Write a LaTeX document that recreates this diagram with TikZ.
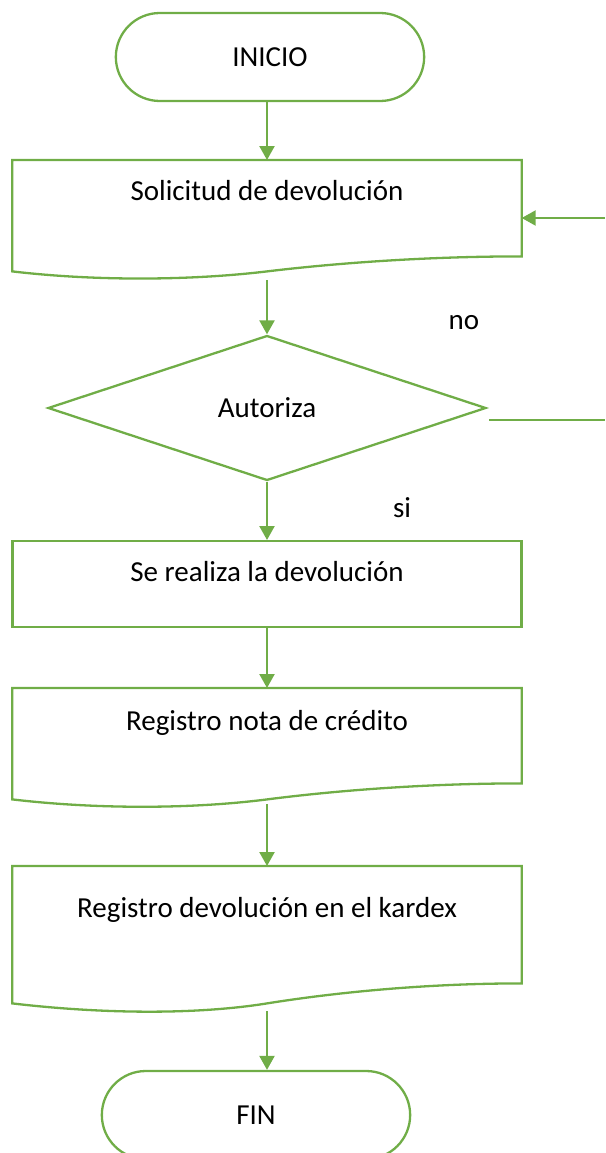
\documentclass[tikz,border=0pt]{standalone}
\usepackage{fontspec}
\setmainfont{Carlito}
\usetikzlibrary{calc,arrows.meta,shapes.geometric,shapes.misc}
\definecolor{flowgreen}{HTML}{70AD47}
\tikzset{
	flowline/.style={line width=2.3pt, color=flowgreen, line join=miter},
	flowarrow/.style={line width=2.3pt, color=flowgreen, -{Triangle[length=14pt,width=15pt]}},
	flowtext/.style={font=\fontsize{29}{34}\selectfont, text=black},
	terminal/.style={flowtext, rounded rectangle, draw=flowgreen, line width=2.3pt, minimum width=315pt, minimum height=88pt},
	docbox/.style={flowtext, anchor=north, inner sep=0pt, minimum width=509pt},
	procbox/.style={docbox, draw=flowgreen, line width=2.3pt},
	decision/.style={flowtext, diamond, draw=flowgreen, line width=2.3pt, minimum width=438pt, minimum height=145pt, inner sep=0pt}
}
\def\docoutline(#1:#2){\draw[flowline] ($(#1.south east)+(0,-#2)$) -- (#1.north east) -- (#1.north west) -- (#1.south west) .. controls +(85,10) and +(-75,{0.6*#2}) .. (#1.south) .. controls +(75,{-0.6*#2}) and +(-90,0) .. ($(#1.south east)+(0,-#2)$) -- cycle;}

\begin{document}
\begin{tikzpicture}[x=1pt, y=-1pt]
		%%%%% START %%%%%
		\useasboundingbox (0, 0) rectangle (605, 1153);
		
		\node[terminal] (inicio) at (270, 57) {INICIO};
		\node[docbox, text height=40pt, text depth=71pt] (sol) at (267, 160) {Solicitud de devolución};
		\docoutline(sol:15)
		
		\node[decision] (autoriza) at (267, 408) {Autoriza};
		\node[flowtext] (lblno) at (464, 323) {no};
		\node[flowtext] (lblsi) at (402, 508) {si};
		
		\node[procbox, text height=40pt, text depth=46pt] (realiza) at (267, 540) {Se realiza la devolución};
		
		\node[docbox, text height=42pt, text depth=69pt] (nota) at (267, 688) {Registro nota de crédito};
		\docoutline(nota:16)
		
		\node[docbox, text height=51pt, text depth=86pt] (kardex) at (267, 866) {Registro devolución en el kardex};
		\docoutline(kardex:20)
		
		\node[terminal] (fin) at (256, 1115) {FIN};
		
		\draw[flowarrow] (sol.north |- inicio.south) -- (sol.north);
		\draw[flowarrow, shorten <=9pt] (sol.south) -- (autoriza.north);
		\draw[flowarrow] (autoriza.south) -- (realiza.north);
		\draw[flowarrow] (realiza.south) -- (nota.north);
		\draw[flowarrow, shorten <=5pt] (nota.south) -- (kardex.north);
		\draw[flowarrow, shorten <=8pt] (kardex.south) -- (kardex.south |- fin.north);
		
		\coordinate (noend) at (605, 420);
		\coordinate (noback) at (605, 218);
		\draw[flowline, line width=1.2pt] ($(autoriza.east |- noend)+(2, 0)$) -- (noend);
		\draw[flowarrow] (noback) -- (noback -| sol.east);
		
		%%%%% END %%%%%
\end{tikzpicture}
\end{document}
